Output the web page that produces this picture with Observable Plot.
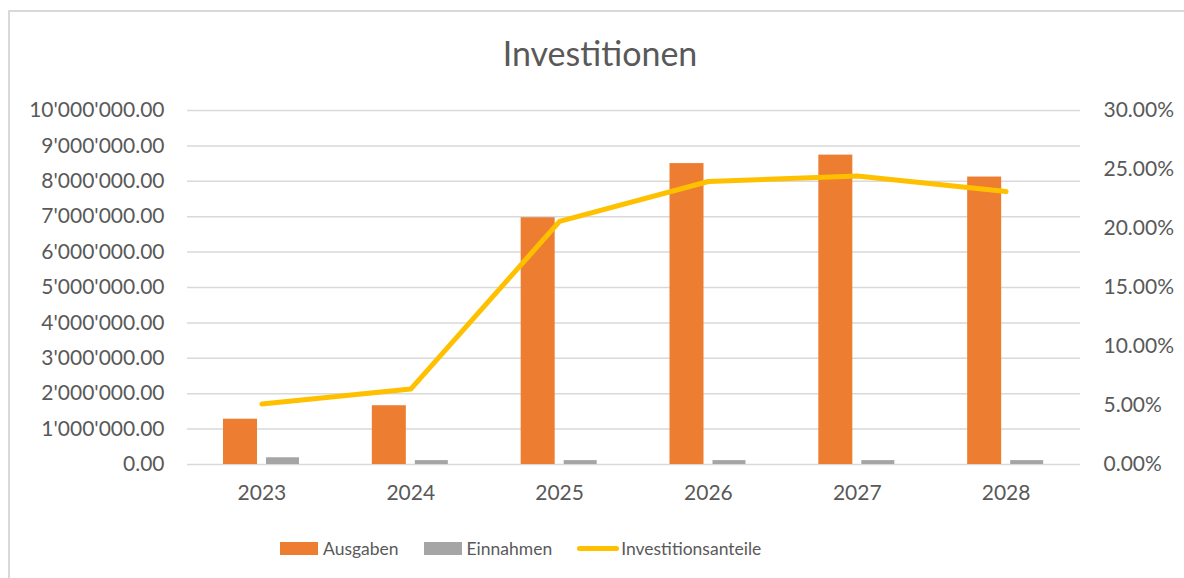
<!DOCTYPE html>
<html>
<head>
<meta charset="utf-8">
<script src="https://cdn.jsdelivr.net/npm/d3@7"></script>
<script src="https://cdn.jsdelivr.net/npm/@observablehq/plot@0.6"></script>
<style>
  html, body { margin: 0; padding: 0; background: #fff; }
  body { font-family: Lato, "Open Sans", sans-serif; color: #595959; }
  #wrap { position: relative; width: 1184px; height: 578px; overflow: hidden; background: #fff; }
  #frame { position: absolute; left: 8px; top: 10px; width: 1300px; height: 700px; border-left: 2px solid #D9D9D9; border-top: 2px solid #D9D9D9; pointer-events: none; z-index: 5; }
  #title { height: 90px; position: relative; }
  #title span { position: absolute; left: 0; width: 1200px; text-align: center; top: 36px; font-size: 34px; font-weight: 400; color: #595959; line-height: 1; }
  #chart svg { display: block; }
  #legend { position: absolute; left: 280px; top: 538px; display: flex; align-items: center; font-size: 17.5px; color: #595959; white-space: nowrap; }
  .item { display: flex; align-items: center; margin-right: 25px; }
  .sw { width: 38px; height: 13px; margin-right: 5px; }
  .ln { width: 42px; height: 5px; border-radius: 3px; margin-right: 2px; }
</style>
</head>
<body>
<div id="wrap">
  <div id="frame"></div>
  <div id="title"><span>Investitionen</span></div>
  <div id="chart"></div>
  <div id="legend">
    <div class="item"><div class="sw" style="background:#ED7D31"></div><span>Ausgaben</span></div>
    <div class="item"><div class="sw" style="background:#A5A5A5"></div><span>Einnahmen</span></div>
    <div class="item"><div class="ln" style="background:#FFC000"></div><span>Investitionsanteile</span></div>
  </div>
</div>
<script>
// Data
const years = ["2023", "2024", "2025", "2026", "2027", "2028"];
const ausgaben = [1280000, 1660000, 6970000, 8500000, 8740000, 8120000];
const einnahmen = [190000, 110000, 110000, 110000, 110000, 110000];
const investitionsanteile = [0.0512, 0.0639, 0.2060, 0.2398, 0.2444, 0.2314];
const leftTicks = [0, 1e6, 2e6, 3e6, 4e6, 5e6, 6e6, 7e6, 8e6, 9e6, 10e6];
const rightTicks = [0, 0.05, 0.10, 0.15, 0.20, 0.25, 0.30];

const yMax = 10e6;
const pctMax = 0.30;
const toY = p => p / pctMax * yMax;

const rows = years.map((y, i) => ({
  year: y,
  ausgaben: ausgaben[i],
  einnahmen: einnahmen[i],
  pct: investitionsanteile[i]
}));

const fmtLeft = d => d3.format(",.2f")(d).replace(/,/g, "'");
const fmtRight = d => (d / yMax * pctMax * 100).toFixed(2) + "%";

const bandW = (1080 - 187) / years.length;

const chart = Plot.plot({
  width: 1184,
  height: 440,
  marginLeft: 187,
  marginRight: 104,
  marginTop: 20,
  marginBottom: 66,
  style: { fontFamily: "Lato, 'Open Sans', sans-serif", fontSize: "21px", color: "#595959", background: "transparent" },
  x: { domain: years, padding: 0, round: false, label: null },
  y: { domain: [0, yMax], label: null },
  marks: [
    Plot.gridY(leftTicks, { stroke: "#D9D9D9", strokeOpacity: 1, strokeWidth: 1.5 }),
    Plot.axisY(leftTicks, { anchor: "left", tickFormat: fmtLeft, tickSize: 0, tickPadding: 23, label: null }),
    Plot.axisY(rightTicks.map(toY), { anchor: "right", tickFormat: fmtRight, tickSize: 0, tickPadding: 23, label: null, textAnchor: "start" }),
    Plot.axisX({ tickSize: 0, tickPadding: 21, label: null }),
    Plot.barY(rows, { x: "year", y: "ausgaben", fill: "#ED7D31", insetLeft: 36, insetRight: bandW - 70 }),
    Plot.barY(rows, { x: "year", y: "einnahmen", fill: "#A5A5A5", insetLeft: 79, insetRight: bandW - 112 }),
    Plot.lineY(rows, { x: "year", y: d => toY(d.pct), stroke: "#FFC000", strokeWidth: 5, strokeLinecap: "round", strokeLinejoin: "round" })
  ]
});
document.getElementById("chart").appendChild(chart);
</script>
</body>
</html>
